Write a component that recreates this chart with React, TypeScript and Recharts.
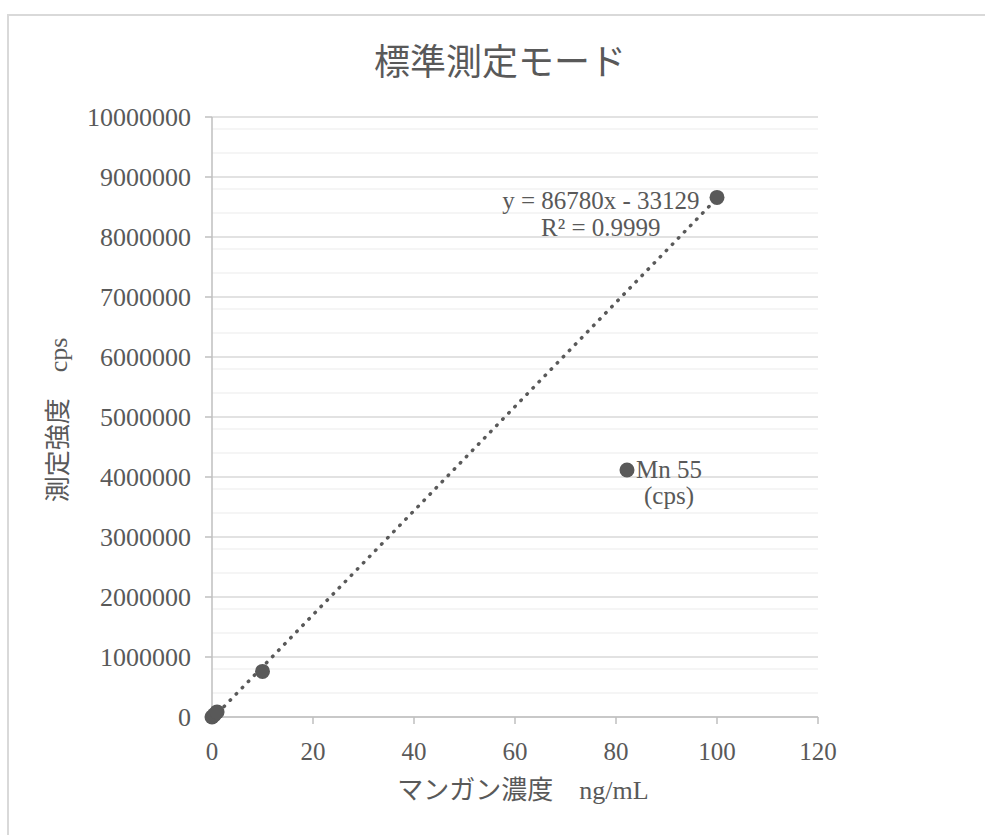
import React from "react";
import {
  ScatterChart,
  Scatter,
  XAxis,
  YAxis,
  CartesianGrid,
  ReferenceLine,
  ReferenceDot,
  Legend,
  Label,
} from "recharts";

// ---- data ----
const X_VALUES = [0, 0.5, 1, 10, 100];
const Y_VALUES = [0, 40000, 85000, 760000, 8660000];
const SERIES_NAME = "Mn 55 (cps)";
const LEGEND_LINES = ["Mn 55", "(cps)"];
const X_TICKS = [0, 20, 40, 60, 80, 100, 120];
const Y_TICKS = [0, 1000000, 2000000, 3000000, 4000000, 5000000, 6000000, 7000000, 8000000, 9000000, 10000000];
const TREND_SLOPE = 86780;
const TREND_INTERCEPT = -33129;
const TREND_RANGE = [0, 100];
const TREND_LABELS = ["y = 86780x - 33129", "R² = 0.9999"];
const TREND_LABEL_AT = { x: 77, y: 8610000 };
const TITLE = "標準測定モード";
const X_TITLE = "マンガン濃度\u3000ng/mL";
const Y_TITLE = "測定強度\u3000cps";

const MINOR_Y: number[] = Array.from({ length: 51 }, (_, i) => i * 200000).filter(
  (v) => v % 1000000 !== 0
);

const points = X_VALUES.map((x, i) => ({ x, y: Y_VALUES[i] }));
const trendSegment = TREND_RANGE.map((x) => ({ x, y: TREND_SLOPE * x + TREND_INTERCEPT }));

const FONT = "'Liberation Serif', 'Noto Sans CJK JP', serif";
const TEXT = "#595959";
const GRID = "#d9d9d9";
const MINOR = "#f2f2f2";
const AXIS = "#bfbfbf";
const MARK = "#595959";

const Dot = (props: any) => {
  const { cx, cy } = props;
  if (cx == null || cy == null) return null;
  return <circle cx={cx} cy={cy} r={7.5} fill={MARK} />;
};

const renderLegend = () => (
  <div style={{ display: "flex", alignItems: "flex-start", fontFamily: FONT, fontSize: 25, color: TEXT }}>
    <svg width={17} height={26} style={{ display: "block" }}>
      <circle cx={8} cy={13} r={7.5} fill={MARK} />
    </svg>
    <div style={{ textAlign: "center", lineHeight: "26px", whiteSpace: "nowrap" }}>
      {LEGEND_LINES.map((l) => (
        <div key={l}>{l}</div>
      ))}
    </div>
  </div>
);

const TrendLabel = (props: any) => {
  const { cx, cy } = props;
  return (
    <g>
      {TREND_LABELS.map((t, i) => (
        <text
          key={t}
          x={cx}
          y={cy + i * 27}
          textAnchor="middle"
          dominantBaseline="central"
          fontFamily={FONT}
          fontSize={25}
          fill={TEXT}
        >
          {t}
        </text>
      ))}
    </g>
  );
};

export default function App() {
  return (
    <div
      style={{
        position: "absolute",
        left: 0,
        top: 0,
        width: 985,
        height: 835,
        overflow: "hidden",
        background: "#fff",
      }}
    >
      <div
        style={{
          position: "absolute",
          left: 7,
          top: 14,
          width: 1100,
          height: 1000,
          border: "2px solid #d9d9d9",
          boxSizing: "border-box",
        }}
      />
      <div style={{ position: "absolute", left: 8, top: 8 }}>
        <ScatterChart
          width={977}
          height={819}
          margin={{ top: 109, right: 167, bottom: 50, left: 0 }}
        >
          <text
            x={492}
            y={51}
            textAnchor="middle"
            dominantBaseline="central"
            fontFamily="'Noto Sans CJK JP', sans-serif"
            fontSize={36}
            fill={TEXT}
          >
            {TITLE}
          </text>
          <CartesianGrid horizontalValues={MINOR_Y} vertical={false} stroke={MINOR} strokeWidth={1.5} />
          <CartesianGrid vertical={false} stroke={GRID} strokeWidth={1.5} />
          <XAxis
            type="number"
            dataKey="x"
            domain={[0, 120]}
            ticks={X_TICKS}
            height={60}
            tickSize={7}
            tickMargin={18}
            axisLine={{ stroke: AXIS, strokeWidth: 1.5 }}
            tickLine={{ stroke: AXIS, strokeWidth: 1.5 }}
            tick={{ fill: TEXT, fontSize: 25, fontFamily: FONT }}
          >
            <Label
              content={(p: any) => {
                const vb = p.viewBox || {};
                return (
                  <text
                    x={(vb.x ?? 204) + (vb.width ?? 606) / 2 + 8}
                    y={782}
                    textAnchor="middle"
                    dominantBaseline="central"
                    fontFamily={FONT}
                    fontSize={26}
                    fill={TEXT}
                  >
                    {X_TITLE}
                  </text>
                );
              }}
            />
          </XAxis>
          <YAxis
            type="number"
            dataKey="y"
            domain={[0, 10000000]}
            ticks={Y_TICKS}
            width={204}
            tickSize={7}
            tickMargin={14}
            axisLine={{ stroke: AXIS, strokeWidth: 1.5 }}
            tickLine={{ stroke: AXIS, strokeWidth: 1.5 }}
            tick={{ fill: TEXT, fontSize: 26, fontFamily: FONT }}
            tickFormatter={(v: number) => String(v)}
          >
            <Label
              content={() => (
                <text
                  x={50}
                  y={412}
                  transform="rotate(-90 50 412)"
                  textAnchor="middle"
                  dominantBaseline="central"
                  fontFamily={FONT}
                  fontSize={26}
                  fill={TEXT}
                >
                  {Y_TITLE}
                </text>
              )}
            />
          </YAxis>
          <ReferenceLine
            segment={trendSegment}
            stroke={MARK}
            strokeWidth={3.5}
            strokeDasharray="0.5 8.2"
            strokeLinecap="round"
            ifOverflow="visible"
          />
          <ReferenceDot
            x={TREND_LABEL_AT.x}
            y={TREND_LABEL_AT.y}
            r={0}
            ifOverflow="visible"
            shape={(p: any) => <TrendLabel {...p} />}
          />
          <Scatter
            name={SERIES_NAME}
            data={points}
            fill={MARK}
            shape={Dot}
            isAnimationActive={false}
          />
          <Legend
            layout="vertical"
            align="center"
            verticalAlign="middle"
            content={renderLegend}
            wrapperStyle={{ position: "absolute", left: 611, top: 449, width: "auto" }}
          />
        </ScatterChart>
      </div>
    </div>
  );
}
